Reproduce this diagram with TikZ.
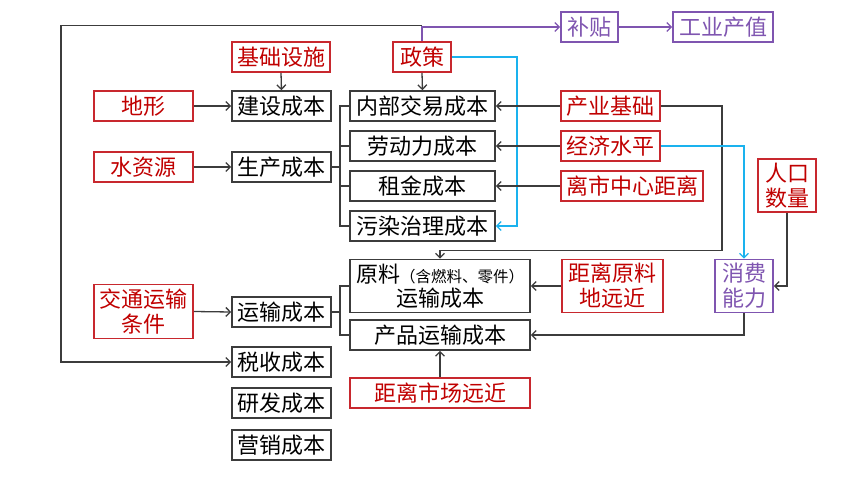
\documentclass[tikz,border=0pt]{standalone}
\usepackage{fontspec}
\setmainfont{Noto Sans CJK SC}
\usetikzlibrary{arrows.meta}
\definecolor{cred}{HTML}{C00000}
\definecolor{credb}{HTML}{C8282E}
\definecolor{cpur}{HTML}{7F55B0}
\definecolor{ccyan}{HTML}{1AB2EE}
\definecolor{cgray}{HTML}{3C3C3C}
\tikzset{
  bx/.style={draw=cgray, line width=1.6pt, inner sep=0pt, align=center,
    font=\fontsize{22}{24}\selectfont, text=black, minimum height=30pt},
  rbx/.style={bx, draw=credb, text=cred},
  pbx/.style={bx, draw=cpur, text=cpur},
  ln/.style={draw=cgray, line width=1.3pt},
  tip/.style={-{Straight Barb[length=4.5pt,width=9pt]}},
  arr/.style={ln, tip},
  parr/.style={draw=cpur, line width=1.3pt, tip},
  carr/.style={draw=ccyan, line width=1.3pt, tip},
  two/.style={minimum height=53pt, font=\fontsize{22}{25}\selectfont},
}
\begin{document}
\begin{tikzpicture}[x=1pt,y=-1pt]
\useasboundingbox (0,0) rectangle (860,484);
% top row
\node[rbx, minimum width=98pt] (jcss) at (281,57) {基础设施};
\node[rbx, minimum width=58pt] (zc) at (422,57) {政策};
\node[pbx, minimum width=57pt] (bt) at (589.5,27) {补贴};
\node[pbx, minimum width=100pt] (gycz) at (723,27) {工业产值};
% left column
\node[rbx, minimum width=99pt] (dx) at (143.5,106) {地形};
\node[rbx, minimum width=99pt] (szy) at (143.5,167) {水资源};
\node[rbx, two, minimum width=99pt, minimum height=54pt] (jt) at (143.5,311.5) {交通运输\\条件};
% second column
\node[bx, minimum width=99pt] (jscb) at (281.5,106) {建设成本};
\node[bx, minimum width=99pt] (sccb) at (281.5,167) {生产成本};
\node[bx, minimum width=99pt] (yscb) at (281.5,312) {运输成本};
\node[bx, minimum width=99pt] (ss) at (281.5,362) {税收成本};
\node[bx, minimum width=99pt] (yf) at (281.5,403) {研发成本};
\node[bx, minimum width=99pt] (yx) at (281.5,445) {营销成本};
% third column
\node[bx, minimum width=145pt] (nb) at (422.5,106) {内部交易成本};
\node[bx, minimum width=145pt] (ld) at (422.5,146) {劳动力成本};
\node[bx, minimum width=145pt] (zj) at (422.5,186) {租金成本};
\node[bx, minimum width=145pt] (wr) at (422.5,226) {污染治理成本};
\node[bx, minimum width=180pt, minimum height=53pt, font=\fontsize{22}{24}\selectfont] (yl) at (440,286)
  {原料{\fontsize{15.5}{16}\selectfont（含燃料、零件）}\\运输成本};
\node[bx, minimum width=180pt] (cp) at (440,335) {产品运输成本};
\node[rbx, minimum width=180pt] (jlsc) at (440,393) {距离市场远近};
% right side
\node[rbx, minimum width=99pt] (cyjc) at (610.5,106) {产业基础};
\node[rbx, minimum width=99pt] (jjsp) at (610.5,146) {经济水平};
\node[rbx, minimum width=142pt] (lsz) at (632,186) {离市中心距离};
\node[rbx, two, minimum width=58pt] (rksl) at (787,185.5) {人口\\数量};
\node[rbx, two, minimum width=101pt] (jlyl) at (612.5,286) {距离原料\\地远近};
\node[pbx, two, minimum width=58pt] (xf) at (744,286) {消费\\能力};
% connectors
\draw[parr] (zc.north) |- (bt.west);
\draw[parr] (bt.east) -- (gycz.west);
\coordinate (loopA) at (422,25.3);
\coordinate (loopB) at (61,25.3);
\draw[arr] (loopA) -- (loopB) |- (ss.west);
\draw[arr] (jcss.south) -- (jscb.north);
\draw[arr] (zc.south) -- (nb.north);
\coordinate (cyA) at (517,57);
\draw[carr] (zc.east) -- (cyA) |- (wr.east);
\draw[arr] (dx.east) -- (jscb.west);
\draw[arr] (szy.east) -- (sccb.west);
\draw[arr] (jt.east) -- (yscb.west);
% bracket from production cost
\coordinate (brA) at (340,167);
\draw[ln] (sccb.east) -- (brA);
\draw[ln] (nb.west) -| (brA);
\draw[ln] (wr.west) -| (brA);
\draw[ln] (ld.west) -- (ld.west -| brA);
\draw[ln] (zj.west) -- (zj.west -| brA);
% bracket from transport cost
\coordinate (brB) at (340,312);
\draw[ln] (yscb.east) -- (brB);
\draw[ln] (yl.west) -| (brB);
\draw[ln] (cp.west) -| (brB);
% right-side arrows
\draw[arr] (cyjc.west) -- (nb.east);
\draw[arr] (jjsp.west) -- (ld.east);
\draw[arr] (lsz.west) -- (zj.east);
\coordinate (cyR) at (722,106);
\coordinate (cyD) at (722,250.5);
\draw[arr] (cyjc.east) -- (cyR) -- (cyD) -| (yl.north);
\draw[carr] (jjsp.east) -| (xf.north);
\draw[arr] (rksl.south) |- (xf.east);
\draw[arr] (jlyl.west) -- (yl.east);
\draw[arr] (xf.south) |- (cp.east);
\draw[arr] (jlsc.north) -- (cp.south);
\end{tikzpicture}
\end{document}
